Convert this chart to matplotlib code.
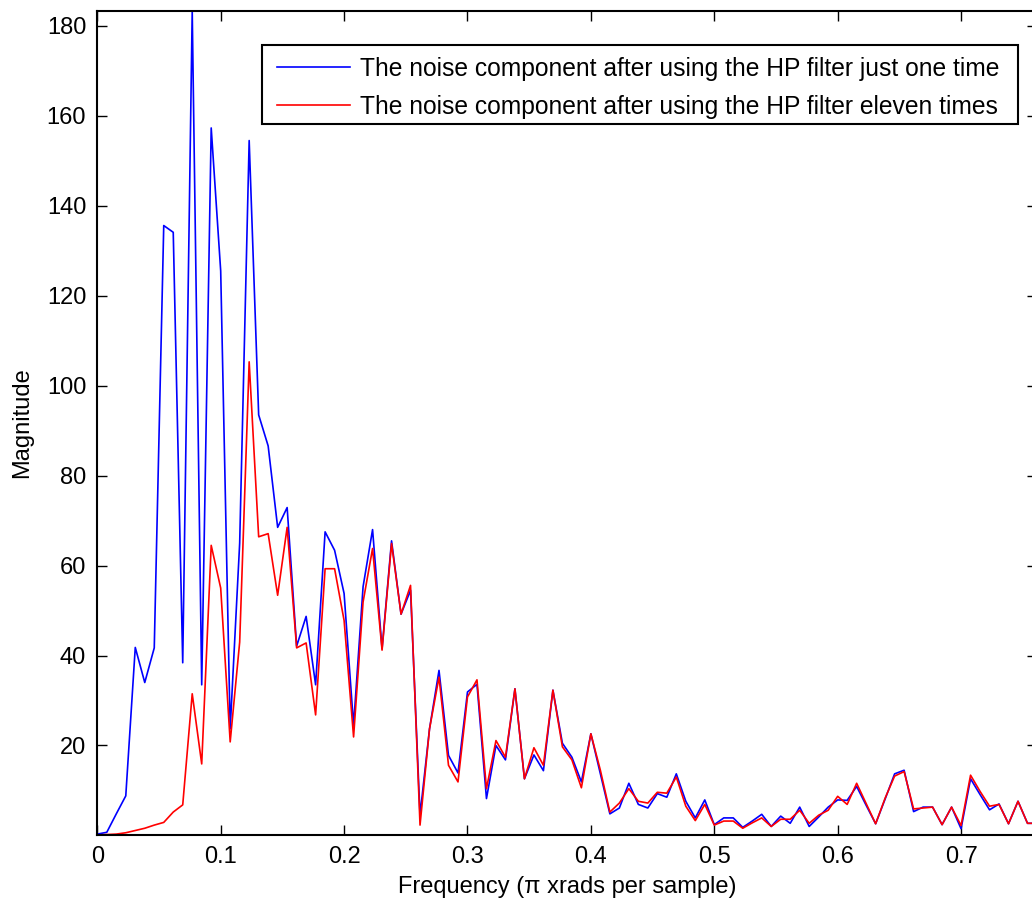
import numpy as np
import matplotlib
matplotlib.use("Agg")
import matplotlib.pyplot as plt
from matplotlib.patches import Rectangle

# Magnitude spectra (bins spaced 1/130 of pi rad/sample)
hp_once = [0.3, 0.7, 4.8, 8.8, 41.8, 34.0, 41.7, 135.6, 134.1, 38.4,
           183.3, 33.5, 157.3, 125.5, 23.7, 65.0, 154.5, 93.5, 86.6, 68.5,
           72.9, 42.1, 48.7, 33.5, 67.5, 63.4, 53.8, 24.5, 55.3, 68.0,
           41.5, 65.5, 49.2, 54.5, 4.5, 23.7, 36.7, 17.8, 13.9, 31.9,
           33.6, 8.2, 20.0, 16.8, 32.6, 12.6, 17.9, 14.4, 32.3, 20.5,
           17.4, 11.9, 22.6, 13.7, 4.8, 6.1, 11.6, 6.9, 6.1, 9.3,
           8.5, 13.7, 7.6, 3.9, 7.9, 2.4, 3.9, 3.9, 1.8, 3.2,
           4.7, 2.0, 4.3, 2.7, 6.3, 2.0, 4.1, 6.3, 7.9, 7.8,
           10.9, 6.7, 2.6, 8.1, 13.7, 14.5, 5.3, 6.3, 6.3, 2.4,
           6.3, 1.5, 12.6, 9.1, 5.7, 7.0, 2.6, 7.6, 2.7, 2.7]
hp_eleven = [0.1, 0.2, 0.3, 0.6, 1.1, 1.6, 2.3, 2.9, 5.2, 6.8,
             31.5, 15.9, 64.5, 55.0, 20.8, 43.0, 105.3, 66.4, 67.1, 53.4,
             68.5, 41.7, 42.8, 26.8, 59.3, 59.3, 47.8, 21.9, 51.9, 63.8,
             41.2, 64.9, 49.2, 55.6, 2.3, 23.7, 35.2, 15.6, 11.9, 30.8,
             34.6, 10.4, 21.1, 17.4, 32.6, 12.6, 19.5, 15.6, 32.3, 19.7,
             16.8, 10.6, 22.6, 14.5, 5.2, 7.2, 10.4, 7.6, 7.2, 9.6,
             9.4, 13.0, 6.5, 3.3, 6.9, 2.3, 3.2, 3.2, 1.6, 2.8,
             3.9, 2.0, 3.6, 3.6, 5.6, 2.7, 4.5, 5.6, 8.7, 6.9,
             11.6, 7.1, 2.6, 8.3, 13.2, 14.2, 5.9, 6.1, 6.3, 2.4,
             6.3, 2.2, 13.4, 9.8, 6.5, 6.9, 2.6, 7.6, 2.7, 2.7]
bin_width = 1 / 130
freq = np.arange(len(hp_once)) * bin_width

labels = ["The noise component after using the HP filter just one time",
          "The noise component after using the HP filter eleven times"]
xticks = [0, 0.1, 0.2, 0.3, 0.4, 0.5, 0.6, 0.7]
yticks = [20, 40, 60, 80, 100, 120, 140, 160, 180]

plt.rcParams['font.family'] = ['Liberation Sans', 'DejaVu Sans']
fs = 17
W, H = 1032, 902

fig = plt.figure(figsize=(W / 100, H / 100), dpi=100)
x0, x1 = 97.3, 1037.0
ax = fig.add_axes([x0 / W, 67 / H, (x1 - x0) / W, 824 / H])
ax.plot(freq, hp_once, color='#0000ff', lw=1.2, label=labels[0])
ax.plot(freq, hp_eleven, color='#ff0000', lw=1.2, label=labels[1])

ax.set_xlim(freq[0], freq[-1])
allv = hp_once + hp_eleven
ax.set_ylim(min(allv), max(allv))
ax.set_xticks(xticks)
ax.set_xticklabels([f"{t:g}" for t in xticks])
ax.set_yticks(yticks)
ax.tick_params(direction='in', length=7.2, width=1, top=True, right=True,
               labelsize=fs, pad=8)
for s in ax.spines.values():
    s.set_linewidth(1.5)
ax.set_xlabel("Frequency (\u03c0 xrads per sample)", fontsize=fs, labelpad=6)
ax.set_ylabel("Magnitude", fontsize=fs, labelpad=10)

# legend box (MATLAB-style, wider horizontal padding)
box = Rectangle((262 / W, 1 - 124 / H), 756 / W, 79 / H, transform=fig.transFigure,
                facecolor='white', edgecolor='black', lw=1.5, zorder=4, clip_on=False)
ax.add_patch(box)
leg = ax.legend(loc='upper left', bbox_to_anchor=(277 / W, 1 - 56.9 / H),
                bbox_transform=fig.transFigure, frameon=False,
                fontsize=17.7, handlelength=2.95, handletextpad=0.42,
                borderpad=0, labelspacing=0.56, borderaxespad=0)
leg.set_zorder(5)

fig.savefig("out.png", dpi=100)
